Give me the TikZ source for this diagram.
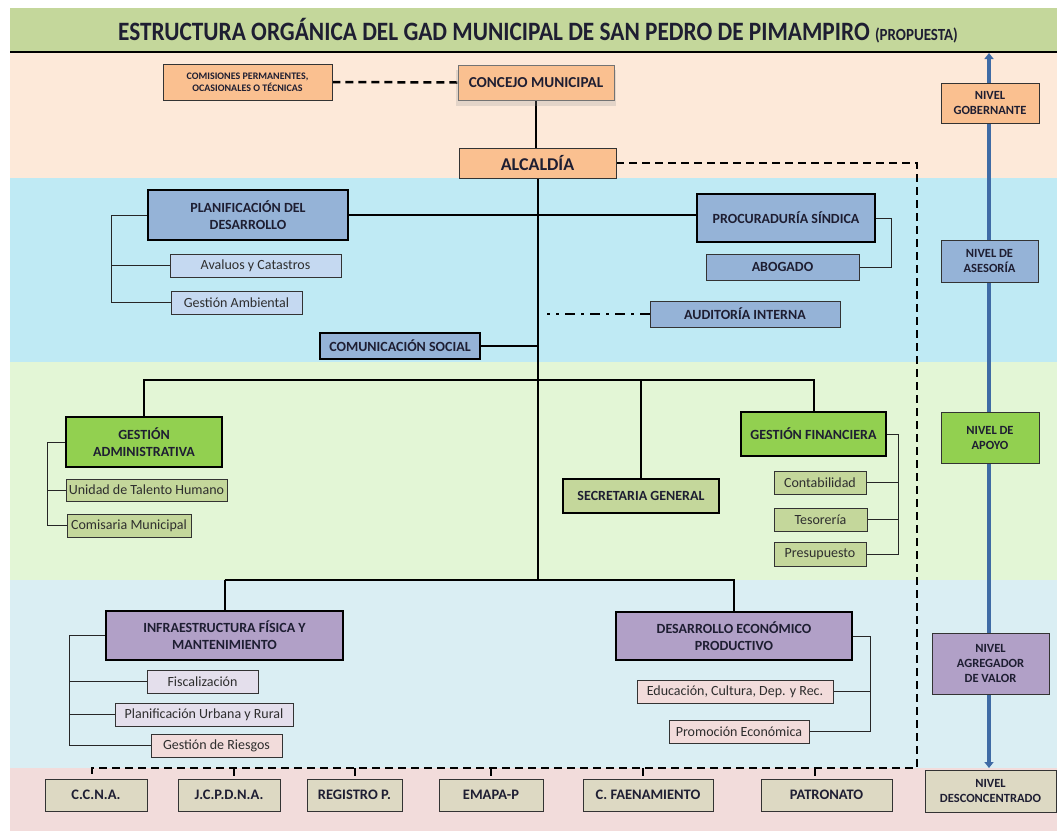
\documentclass[tikz,border=0pt]{standalone}
\usepackage{fontspec}
\setmainfont{Carlito}
\newfontfamily\titlefont{Carlito}[FakeStretch=0.88]
\usetikzlibrary{arrows.meta,shadows}
\definecolor{titlegreen}{HTML}{C4D79B}
\definecolor{bandA}{HTML}{FDE9D9}
\definecolor{bandB}{HTML}{BFEAF4}
\definecolor{bandC}{HTML}{E3F6D6}
\definecolor{bandD}{HTML}{DAEEF3}
\definecolor{bandE}{HTML}{F2DCDB}
\definecolor{orangef}{HTML}{FAC090}
\definecolor{bluef}{HTML}{95B3D7}
\definecolor{lbluef}{HTML}{C5D9F1}
\definecolor{greenf}{HTML}{92D050}
\definecolor{olivef}{HTML}{C4D79B}
\definecolor{purplef}{HTML}{B1A0C7}
\definecolor{lavf}{HTML}{E4DFEC}
\definecolor{pinkf}{HTML}{F2DCDB}
\definecolor{tanf}{HTML}{DDD9C3}
\definecolor{arrowblue}{HTML}{3F6BA5}
\definecolor{txt}{HTML}{1E1E32}
\definecolor{subtxt}{HTML}{2E2E2E}
\pgfdeclarelayer{bg}
\pgfdeclarelayer{lines}
\pgfsetlayers{bg,lines,main}
\tikzset{
  box/.style={draw=black!80, line width=0.8pt, inner sep=0pt, align=center,
    text=txt, font=\fontsize{14}{17}\selectfont\bfseries},
  mainbox/.style={box, draw=black, line width=2.6pt},
  subbox/.style={box, font=\fontsize{14}{16}\selectfont, text=subtxt},
  levelbox/.style={box, font=\fontsize{12.5}{15}\selectfont\bfseries},
  botbox/.style={box, fill=tanf, font=\fontsize{14.5}{16}\selectfont\bfseries},
  conn/.style={line width=2pt, black},
  thinconn/.style={line width=0.8pt, black!85},
  dashconn/.style={line width=2.5pt, black, dash pattern=on 8pt off 5pt},
  dotdash/.style={line width=2.5pt, black, dash pattern=on 10pt off 6pt on 3pt off 6pt},
  arrowline/.style={line width=4pt, arrowblue, {Triangle[width=9pt,length=6pt]}-{Triangle[width=9pt,length=6pt]}},
}
\begin{document}
\begin{tikzpicture}[x=1pt,y=-1pt]
\useasboundingbox (0,0) rectangle (1057,831);
% ---- nodes
\node[font=\titlefont\fontsize{26.5}{28}\selectfont\bfseries, text=txt] (title) at (538,31)
  {ESTRUCTURA ORGÁNICA DEL GAD MUNICIPAL DE SAN PEDRO DE PIMAMPIRO {\fontsize{17}{18}\selectfont (PROPUESTA)}};
\node[box, fill=orangef, minimum width=169pt, minimum height=36pt, font=\fontsize{10}{12.5}\selectfont\bfseries] (com) at (247.5,82) {COMISIONES PERMANENTES,\\OCASIONALES O TÉCNICAS};
\node[box, draw=black!55, fill=orangef, minimum width=156pt, minimum height=35pt, font=\fontsize{15.2}{17}\selectfont\bfseries,
  drop shadow={shadow xshift=0pt, shadow yshift=-5pt, shadow scale=1.03, fill=black!40, opacity=0.25}] (conc) at (536,82.5) {CONCEJO MUNICIPAL};
\node[box, fill=orangef, minimum width=157pt, minimum height=30pt, font=\fontsize{18}{20}\selectfont\bfseries] (alc) at (537.5,163) {ALCALDÍA};
% asesoria
\node[mainbox, fill=bluef, minimum width=200pt, minimum height=50pt] (plan) at (248,215) {PLANIFICACIÓN DEL\\DESARROLLO};
\node[mainbox, fill=bluef, minimum width=178pt, minimum height=48pt] (proc) at (786,218) {PROCURADURÍA SÍNDICA};
\node[box, fill=bluef, minimum width=153pt, minimum height=26pt] (abog) at (782.5,267) {ABOGADO};
\node[subbox, fill=lbluef, minimum width=171pt, minimum height=23pt] (aval) at (255.5,265.5) {Avaluos y Catastros};
\node[subbox, fill=lbluef, minimum width=131pt, minimum height=23pt] (gamb) at (236.5,302.5) {Gestión Ambiental};
\node[box, fill=bluef, minimum width=190pt, minimum height=26pt] (aud) at (745,314) {AUDITORÍA INTERNA};
\node[mainbox, fill=bluef, minimum width=160pt, minimum height=26pt] (comu) at (400,346) {COMUNICACIÓN SOCIAL};
% apoyo
\node[mainbox, fill=greenf, minimum width=156pt, minimum height=50pt] (gadm) at (144,442) {GESTIÓN\\ADMINISTRATIVA};
\node[subbox, fill=olivef, minimum width=161pt, minimum height=22pt] (uth) at (146.5,490) {Unidad de Talento Humano};
\node[subbox, fill=olivef, minimum width=124pt, minimum height=23pt] (cmun) at (129,525.5) {Comisaria Municipal};
\node[mainbox, fill=olivef, minimum width=156pt, minimum height=34pt] (sec) at (641,496) {SECRETARIA GENERAL};
\node[mainbox, fill=greenf, minimum width=145pt, minimum height=44pt] (gfin) at (813.5,434) {GESTIÓN FINANCIERA};
\node[subbox, fill=olivef, minimum width=92pt, minimum height=23pt] (cont) at (820,482.5) {Contabilidad};
\node[subbox, fill=olivef, minimum width=93pt, minimum height=23pt] (tes) at (820.5,519.5) {Tesorería};
\node[subbox, fill=olivef, minimum width=92pt, minimum height=24pt] (pres) at (820,554) {Presupuesto};
% agregador
\node[mainbox, fill=purplef, minimum width=237pt, minimum height=49pt] (infra) at (224.5,635.5) {INFRAESTRUCTURA FÍSICA Y\\MANTENIMIENTO};
\node[subbox, fill=lavf, minimum width=111pt, minimum height=23pt] (fisc) at (202.5,681.5) {Fiscalización};
\node[subbox, fill=lavf, minimum width=178pt, minimum height=23pt] (purb) at (204,714.5) {Planificación Urbana y Rural};
\node[subbox, fill=pinkf, minimum width=131pt, minimum height=23pt] (gries) at (216.5,745.5) {Gestión de Riesgos};
\node[mainbox, fill=purplef, minimum width=236pt, minimum height=48pt] (dep) at (734,636) {DESARROLLO ECONÓMICO\\PRODUCTIVO};
\node[subbox, fill=pinkf, minimum width=196pt, minimum height=23pt] (edu) at (735,691.5) {Educación, Cultura, Dep. y Rec.};
\node[subbox, fill=pinkf, minimum width=140pt, minimum height=23pt] (prom) at (739,731.5) {Promoción Económica};
% desconcentrado
\node[botbox, minimum width=102pt, minimum height=32pt] (ccna) at (96,795) {C.C.N.A.};
\node[botbox, minimum width=102pt, minimum height=32pt] (jcp) at (229,795) {J.C.P.D.N.A.};
\node[botbox, minimum width=95pt, minimum height=32pt] (reg) at (354.5,795) {REGISTRO P.};
\node[botbox, minimum width=104pt, minimum height=32pt] (emapa) at (491,795) {EMAPA-P};
\node[botbox, minimum width=130pt, minimum height=32pt] (cfae) at (648,795) {C. FAENAMIENTO};
\node[botbox, minimum width=131pt, minimum height=32pt] (patr) at (826.5,795) {PATRONATO};
% levels
\node[levelbox, fill=orangef, minimum width=98pt, minimum height=40pt] (ng) at (990,103) {NIVEL\\GOBERNANTE};
\node[levelbox, fill=bluef, minimum width=97pt, minimum height=42pt] (na) at (989.5,261) {NIVEL DE\\ASESORÍA};
\node[levelbox, fill=greenf, minimum width=98pt, minimum height=51pt] (nap) at (990,437.5) {NIVEL DE\\APOYO};
\node[levelbox, fill=purplef, minimum width=117pt, minimum height=61pt] (nav) at (990.5,663.5) {NIVEL\\AGREGADOR\\DE VALOR};
\node[levelbox, fill=tanf, minimum width=131pt, minimum height=42pt] (nd) at (990.5,791) {NIVEL\\DESCONCENTRADO};
% ---- background bands
\begin{pgfonlayer}{bg}
\fill[titlegreen] (10,8) rectangle (1057,52);
\fill[bandA] (10,52) rectangle (1057,178);
\fill[bandB] (10,178) rectangle (1057,362);
\fill[bandC] (10,362) rectangle (1057,580);
\fill[bandD] (10,580) rectangle (1057,768);
\fill[bandE] (10,768) rectangle (1057,831);
\draw[line width=2pt, black] (10,52) -- (1057,52);
\end{pgfonlayer}
% ---- connectors
\begin{pgfonlayer}{lines}
\draw[line width=0.6pt, black!35] ([shift={(4,4)}]conc.north west) rectangle ([shift={(-4,-4)}]conc.south east);
\coordinate (spine) at (537,580);
\draw[dashconn] (com.east) -- (conc.west);
\draw[conn] (conc.south) -- (conc.south |- alc.north);
\draw[conn] (alc.south) -- (alc.south |- spine);
\draw[dashconn] (alc.east) -- (917,163) -- (917,768) -- (92,768) -- (92,0 |- ccna.north);
\draw[dashconn] (234,768) -- (234,0 |- jcp.north);
\draw[dashconn] (355,768) -- (355,0 |- reg.north);
\draw[dashconn] (491,768) -- (491,0 |- emapa.north);
\draw[dashconn] (643,768) -- (643,0 |- cfae.north);
\draw[dashconn] (815,768) -- (815,0 |- patr.north);
\draw[conn] (plan.east) -- (plan.east -| proc.west);
\draw[thinconn] (plan.west) -- ++(-35,0) coordinate (pl) |- (gamb.west);
\draw[thinconn] (pl |- aval.west) -- (aval.west);
\draw[thinconn] (proc.east) -- ++(15,0) |- (abog.east);
\draw[dotdash] (aud.west) -- ++(-103,0);
\draw[conn] (comu.east) -- (comu.east -| spine);
\draw[conn] (gadm.north) -- ++(0,-36) coordinate (ap1) -| (gfin.north);
\draw[conn] (ap1 -| sec.north) -- (sec.north);
\draw[thinconn] (gadm.west) -- ++(-17,0) coordinate (ga) |- (cmun.west);
\draw[thinconn] (ga |- uth.west) -- (uth.west);
\draw[thinconn] (gfin.east) -- ++(11,0) coordinate (gf) |- (pres.east);
\draw[thinconn] (gf |- cont.east) -- (cont.east);
\draw[thinconn] (gf |- tes.east) -- (tes.east);
\draw[conn] (infra.north |- spine) -- (infra.north);
\draw[conn] (infra.north |- spine) -| (dep.north);
\draw[thinconn] (infra.west) -- ++(-35,0) coordinate (ia) |- (gries.west);
\draw[thinconn] (ia |- fisc.west) -- (fisc.west);
\draw[thinconn] (ia |- purb.west) -- (purb.west);
\draw[thinconn] (dep.east) -- ++(17,0) coordinate (da) |- (prom.east);
\draw[thinconn] (da |- edu.east) -- (edu.east);
\coordinate (atop) at (989,53);
\coordinate (abot) at (989,768);
\draw[arrowline] (atop) -- (abot);
\end{pgfonlayer}
\end{tikzpicture}
\end{document}
